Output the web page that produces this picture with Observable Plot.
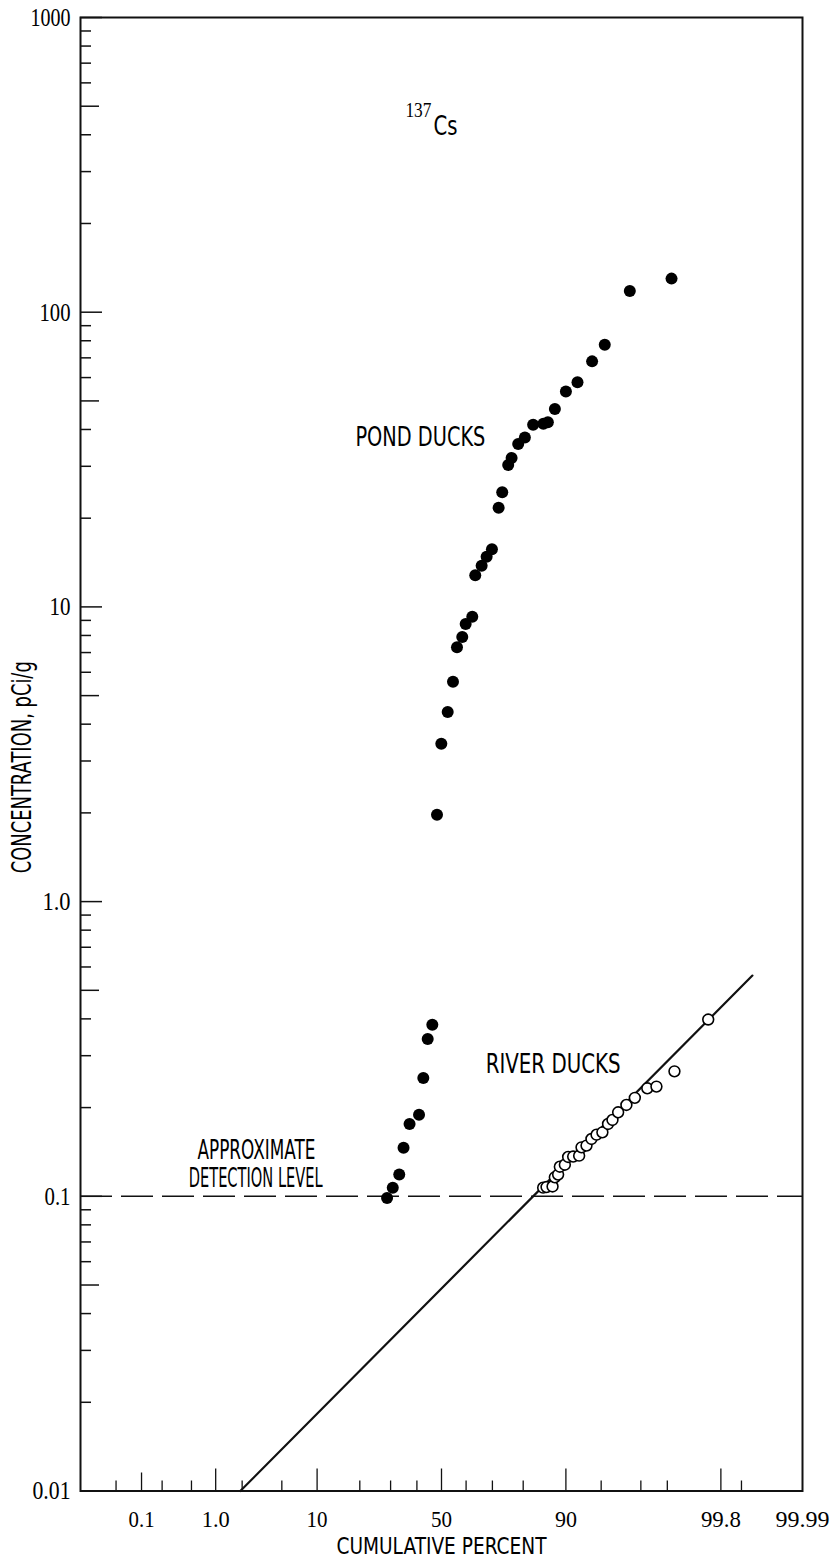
<!DOCTYPE html>
<html>
<head>
<meta charset="utf-8">
<script src="https://cdn.jsdelivr.net/npm/d3@7"></script>
<script src="https://cdn.jsdelivr.net/npm/@observablehq/plot@0.6"></script>
<style>
  html, body { margin: 0; padding: 0; background: #fff; }
  #chart svg { display: block; }
</style>
</head>
<body>
<div id="chart"></div>
<script>
// ---------------- data ----------------
// Pond ducks (filled dots): cumulative percent, concentration pCi/g
const pondPercent = [28.75, 30.78, 33.17, 34.79, 37.1, 40.85, 42.57, 44.35, 46.23, 48.15,
  49.92, 52.54, 54.71, 56.34, 58.47, 59.83, 62.44, 63.6, 66.04, 67.9,
  69.83, 72.19, 73.42, 75.4, 76.49, 78.53, 80.48, 82.74, 85.3, 86.34,
  87.86, 90.0, 91.94, 93.96, 95.37, 97.38, 99.11];
const pondConc = [0.0986, 0.107, 0.1185, 0.146, 0.176, 0.189, 0.252, 0.342, 0.382, 1.97,
  3.43, 4.40, 5.57, 7.29, 7.91, 8.75, 9.26, 12.8, 13.8, 14.8,
  15.7, 21.7, 24.5, 30.3, 32.0, 35.7, 37.6, 41.5, 41.8, 42.3,
  46.9, 53.8, 57.8, 68.1, 77.5, 118, 130];

// River ducks (open circles)
const riverPercent = [85.25, 86.04, 87.37, 87.85, 88.52, 88.86, 89.81, 90.40, 91.25, 92.19,
  92.54, 93.24, 93.88, 94.49, 95.13, 95.69, 96.09, 96.56, 97.16, 97.68,
  98.30, 98.66, 99.18, 99.70];
const riverConc = [0.107, 0.1075, 0.108, 0.116, 0.1185, 0.126, 0.128, 0.136, 0.1364, 0.1374,
  0.1466, 0.1486, 0.1565, 0.1619, 0.1648, 0.176, 0.1816, 0.1928, 0.2042, 0.2158,
  0.2325, 0.2356, 0.2655, 0.398];

// River ducks fitted line (end points)
const fitPercent = [1.91, 99.932];
const fitConc = [0.01, 0.561];

// Approximate detection level
const detectionLevel = [0.1];

// Axis ticks
const xMajorTicks = [1, 10, 50, 90, 99.8];
const xMidTicks = [0.1];
const xMinorTicks = [0.04, 0.2, 0.5, 2, 5, 20, 30, 40, 60, 70, 80, 95, 98, 99, 99.9];
const xLabelValues = [0.1, 1, 10, 50, 90, 99.8, 99.99];
const xLabelTexts = ["0.1", "1.0", "10", "50", "90", "99.8", "99.99"];
const xDomainPercent = [0.01, 99.99];

const yDecadeTicks = [0.01, 0.1, 1, 10, 100, 1000];
const yDecadeLabels = ["0.01", "0.1", "1.0", "10", "100", "1000"];
const yFiveTicks = [0.05, 0.5, 5, 50, 500];
const yMinorTicks = [0.02, 0.03, 0.04, 0.06, 0.07, 0.08, 0.09,
  0.2, 0.3, 0.4, 0.6, 0.7, 0.8, 0.9,
  2, 3, 4, 6, 7, 8, 9,
  20, 30, 40, 60, 70, 80, 90,
  200, 300, 400, 600, 700, 800, 900];

// Texts
const xTitle = "CUMULATIVE PERCENT";
const yTitle = "CONCENTRATION, pCi/g";
const annotationTexts = ["POND DUCKS", "RIVER DUCKS", "APPROXIMATE", "DETECTION LEVEL"];
const annotationPercent = [41.4, 87.5, 2.83, 2.78];
const annotationConc = [37.5, 0.28, 0.1429, 0.1148];
const isotopeMass = "137";
const isotopeSymbol = "Cs";
const isotopeMassPos = [40.6, 482];
const isotopeSymbolPos = [51.6, 426];

// ---------------- helpers ----------------
// inverse standard normal CDF (Acklam) -> normal probability scale
function probit(p) {
  const a = [-3.969683028665376e+01, 2.209460984245205e+02, -2.759285104469687e+02, 1.383577518672690e+02, -3.066479806614716e+01, 2.506628277459239e+00];
  const b = [-5.447609879822406e+01, 1.615858368580409e+02, -1.556989798598866e+02, 6.680131188771972e+01, -1.328068155288572e+01];
  const c = [-7.784894002430293e-03, -3.223964580411365e-01, -2.400758277161838e+00, -2.549732539343734e+00, 4.374664141464968e+00, 2.938163982698783e+00];
  const d = [7.784695709041462e-03, 3.224671290700398e-01, 2.445134137142996e+00, 3.754408661907416e+00];
  const pl = 0.02425, ph = 1 - pl;
  let q, r;
  if (p < pl) {
    q = Math.sqrt(-2 * Math.log(p));
    return (((((c[0]*q+c[1])*q+c[2])*q+c[3])*q+c[4])*q+c[5]) / ((((d[0]*q+d[1])*q+d[2])*q+d[3])*q+1);
  }
  if (p <= ph) {
    q = p - 0.5; r = q * q;
    return (((((a[0]*r+a[1])*r+a[2])*r+a[3])*r+a[4])*r+a[5])*q / (((((b[0]*r+b[1])*r+b[2])*r+b[3])*r+b[4])*r+1);
  }
  q = Math.sqrt(-2 * Math.log(1 - p));
  return -(((((c[0]*q+c[1])*q+c[2])*q+c[3])*q+c[4])*q+c[5]) / ((((d[0]*q+d[1])*q+d[2])*q+d[3])*q+1);
}
const zOf = pct => probit(pct / 100);

const pond = pondPercent.map((p, i) => ({p, v: pondConc[i]}));
const river = riverPercent.map((p, i) => ({p, v: riverConc[i]}));
const fit = fitPercent.map((p, i) => ({p, v: fitConc[i]}));
const annotations = annotationTexts.map((t, i) => ({t, p: annotationPercent[i], v: annotationConc[i]}));
const xLabels = xLabelValues.map((p, i) => ({p, t: xLabelTexts[i]}));
const yLabels = yDecadeTicks.map((v, i) => ({v, t: yDecadeLabels[i]}));

const sans = "'DejaVu Sans', 'Liberation Sans', sans-serif";
const serif = "'Liberation Serif', 'DejaVu Serif', serif";

// ---------------- chart ----------------
const chart = Plot.plot({
  width: 835,
  height: 1560,
  marginLeft: 80,
  marginRight: 33,
  marginTop: 17,
  marginBottom: 69.5,
  style: {background: "#fff", color: "#111", overflow: "visible"},
  x: {domain: xDomainPercent.map(zOf)},
  y: {type: "log", domain: [0.01, 1000]},
  marks: [
    // y axis ticks (inward)
    Plot.axisY(yMinorTicks, {anchor: "left", tickSize: 11, dx: 11, fill: "none", label: null, strokeWidth: 1.5}),
    Plot.axisY(yFiveTicks, {anchor: "left", tickSize: 19, dx: 19, fill: "none", label: null, strokeWidth: 1.5}),
    Plot.axisY(yDecadeTicks, {anchor: "left", tickSize: 22, dx: 22, fill: "none", label: null, strokeWidth: 1.5}),
    // y tick labels
    Plot.text(yLabels, {y: "v", text: "t", frameAnchor: "left", textAnchor: "end", lineAnchor: "middle",
      dx: -10, fontSize: 26, fontFamily: serif, fill: "#000"}),
    // x axis ticks (inward)
    Plot.axisX(xMinorTicks.map(zOf), {anchor: "bottom", tickSize: 10, dy: -10, fill: "none", label: null, strokeWidth: 1.3}),
    Plot.axisX(xMidTicks.map(zOf), {anchor: "bottom", tickSize: 18, dy: -18, fill: "none", label: null, strokeWidth: 1.3}),
    Plot.axisX(xMajorTicks.map(zOf), {anchor: "bottom", tickSize: 22, dy: -22, fill: "none", label: null, strokeWidth: 1.3}),
    // x tick labels
    Plot.text(xLabels, {x: d => zOf(d.p), text: "t", frameAnchor: "bottom", lineAnchor: "middle",
      dy: 29, fontSize: 23, fontFamily: serif, fill: "#000"}),
    // frame
    Plot.frame({strokeWidth: 2}),
    // detection level
    Plot.ruleY(detectionLevel, {strokeWidth: 1.4, strokeDasharray: "32,9"}),
    // river fit line
    Plot.line(fit, {x: d => zOf(d.p), y: "v", strokeWidth: 2.2}),
    // data
    Plot.dot(pond, {x: d => zOf(d.p), y: "v", r: 6, fill: "#000", stroke: "none"}),
    Plot.dot(river, {x: d => zOf(d.p), y: "v", r: 5.4, fill: "#fff", stroke: "#000", strokeWidth: 1.6}),
    // annotations
    Plot.text(annotations, {x: d => zOf(d.p), y: "v", text: "t", fontSize: 26, fontFamily: sans, fill: "#000"}),
    Plot.text([isotopeMass], {x: () => zOf(isotopeMassPos[0]), y: () => isotopeMassPos[1], text: d => d, fontSize: 20, fontFamily: serif, fill: "#000"}),
    Plot.text([isotopeSymbol], {x: () => zOf(isotopeSymbolPos[0]), y: () => isotopeSymbolPos[1], text: d => d, fontSize: 26, fontFamily: sans, fill: "#000"}),
    // axis titles
    Plot.text([xTitle], {frameAnchor: "bottom", lineAnchor: "middle", dy: 56, text: d => d, fontSize: 23, fontFamily: sans, fill: "#000"}),
    Plot.text([yTitle], {frameAnchor: "left", textAnchor: "middle", lineAnchor: "middle", dx: -58, dy: 13, rotate: -90, text: d => d, fontSize: 26, fontFamily: sans, fill: "#000"})
  ]
});
document.getElementById("chart").appendChild(chart);

// condensed lettering like the original: fit each label to its measured width
const textWidths = new Map([
  ["POND DUCKS", 130], ["RIVER DUCKS", 135], ["APPROXIMATE", 118], ["DETECTION LEVEL", 134],
  ["CUMULATIVE PERCENT", 210], ["CONCENTRATION, pCi/g", 212], ["Cs", 24], ["137", 26],
  ["1000", 40], ["100", 31], ["10", 21], ["1.0", 28], ["0.1", 26], ["0.01", 38],
  ["50", 21], ["90", 22], ["99.8", 40], ["99.99", 54]
]);
chart.querySelectorAll("text").forEach(el => {
  const w = textWidths.get(el.textContent.trim());
  if (w) {
    el.setAttribute("textLength", w);
    el.setAttribute("lengthAdjust", "spacingAndGlyphs");
  }
});
</script>
</body>
</html>
